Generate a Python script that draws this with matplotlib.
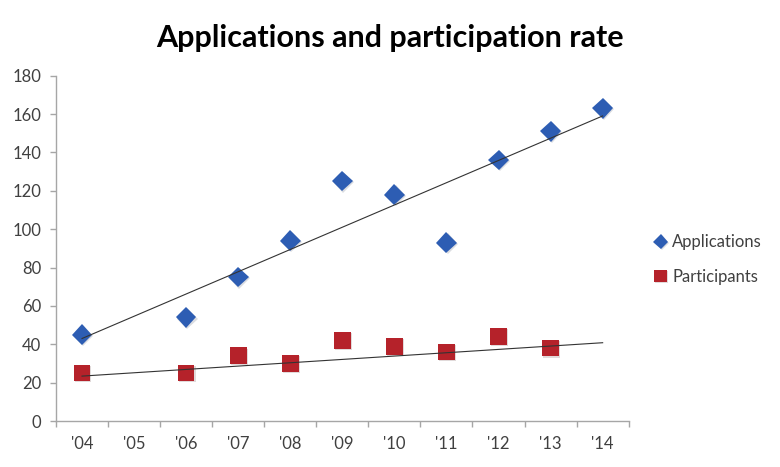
import matplotlib
matplotlib.use("Agg")
import matplotlib.pyplot as plt
import matplotlib.patheffects as pe
import numpy as np

# data
years = ["'04", "'05", "'06", "'07", "'08", "'09", "'10", "'11", "'12", "'13", "'14"]
applications = [45, None, 54, 75, 94, 125, 118, 93, 136, 151, 163]
participants = [25, None, 25, 34, 30, 42, 39, 36, 44, 38, None]
# trendline end values ('04 and '14) as seen in the picture
apps_trend = [43, 159]
part_trend = [23.4, 40.8]

plt.rcParams['font.family'] = ['Lato', 'DejaVu Sans']

fig = plt.figure(figsize=(7.8, 4.67), dpi=100)
ax = fig.add_axes([0.0718, 0.0985, 0.7342, 0.7395])

x = np.arange(len(years))
app = np.array([np.nan if v is None else v for v in applications], dtype=float)
par = np.array([np.nan if v is None else v for v in participants], dtype=float)

shadow = [pe.SimplePatchShadow(offset=(0.8, -0.8), alpha=0.15), pe.Normal()]

ax.plot(x[~np.isnan(app)], app[~np.isnan(app)], linestyle='none', marker='D',
        markersize=10.5, color='#2D5DB3', markeredgewidth=0, label='Applications',
        path_effects=shadow, zorder=3)
ax.plot(x[~np.isnan(par)], par[~np.isnan(par)], linestyle='none', marker='s',
        markersize=12, color='#B5222A', markeredgewidth=0, label='Participants',
        path_effects=shadow, zorder=3)

# trendlines
ax.plot([x[0], x[-1]], apps_trend, color='#333333', linewidth=0.8, zorder=4)
ax.plot([x[0], x[-1]], part_trend, color='#333333', linewidth=0.8, zorder=4)

ax.set_xlim(-0.5, len(years) - 0.5)
ax.set_ylim(0, 180)
ax.set_yticks(range(0, 181, 20))
ax.set_xticks(x)
ax.set_xticklabels(years)
ax.set_xticks(np.arange(-0.5, len(years), 1), minor=True)

for s in ['top', 'right']:
    ax.spines[s].set_visible(False)
for s in ['left', 'bottom']:
    ax.spines[s].set_color('#A6A6A6')
    ax.spines[s].set_linewidth(1.0)

ax.tick_params(axis='x', which='major', length=0, pad=11, labelsize=12, labelcolor='#404040')
ax.tick_params(axis='x', which='minor', length=4, width=1, color='#A6A6A6', direction='out')
ax.tick_params(axis='y', length=4.5, width=1, color='#A6A6A6', direction='out', pad=6,
               labelsize=12, labelcolor='#404040')

fig.text(0.5, 0.918, "Applications and participation rate", ha='center', va='center',
         fontsize=22, fontweight='bold', color='black')

fig.legend(loc='center left', bbox_to_anchor=(0.818, 0.444), frameon=False,
           handlelength=0.9, handletextpad=0.25, labelspacing=1.1, fontsize=12,
           labelcolor='#404040', markerscale=0.75)

fig.savefig("out.png", dpi=100)
